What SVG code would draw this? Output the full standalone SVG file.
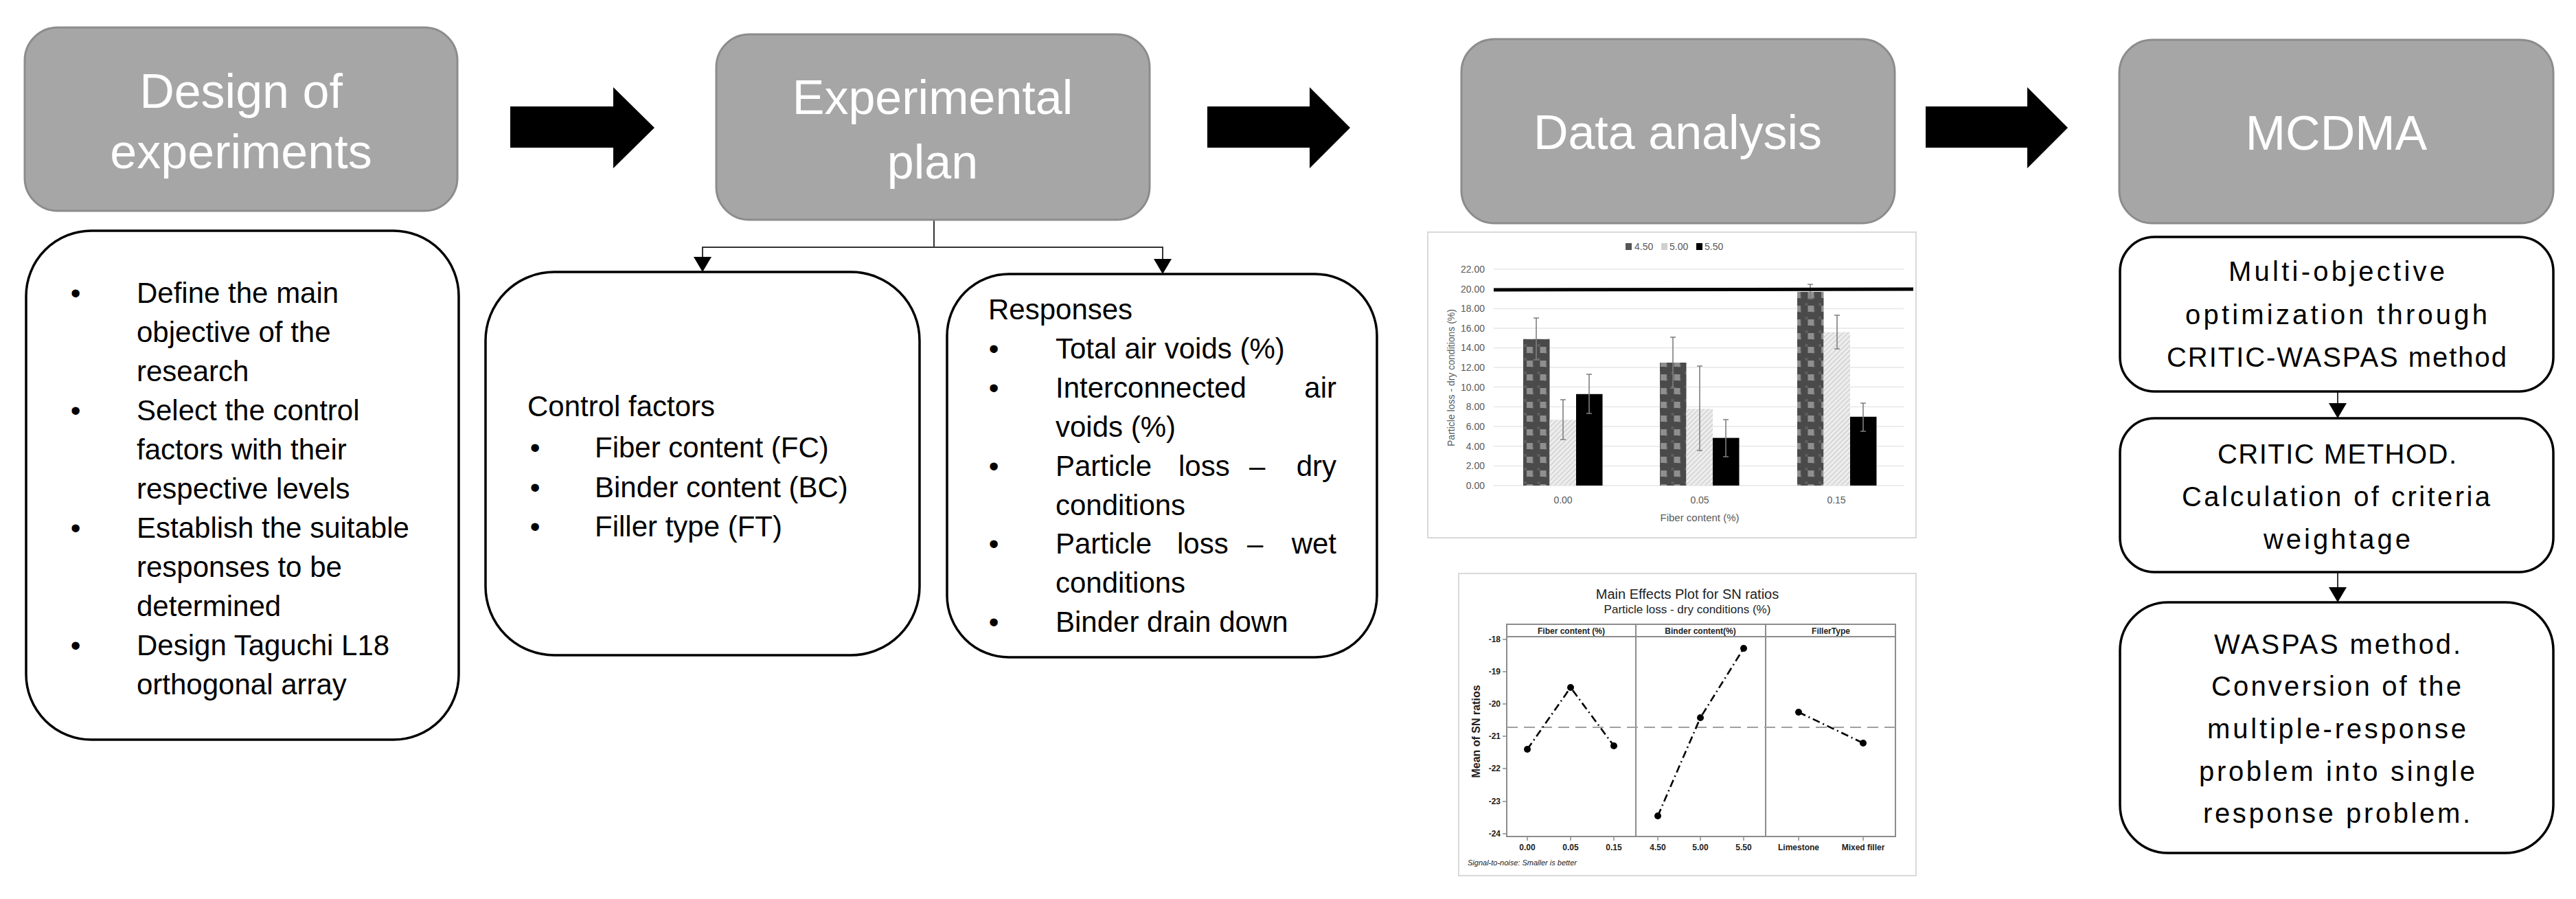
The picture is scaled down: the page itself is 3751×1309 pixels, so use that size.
<svg xmlns="http://www.w3.org/2000/svg" width="3751" height="1309" viewBox="0 0 3751 1309">
<defs>
<style>
text{font-family:'Liberation Sans',Arial,sans-serif}
.gbox{fill:#a6a6a6;stroke:#8c8c8c;stroke-width:3}
.tbox{fill:#fff;stroke:#000;stroke-width:3.5}
.h{font-size:70px;fill:#fff;text-anchor:middle}
.b{font-size:42px;fill:#000}
.bul{font-size:42px;fill:#000;text-anchor:middle}
.m{font-size:40px;fill:#000}
.blk{fill:#000}
.con{fill:none;stroke:#333;stroke-width:2}
.grid{stroke:#ececec;stroke-width:2}
.ax{font-size:14px;fill:#595959}
.err{stroke:#7f7f7f;stroke-width:1.6;fill:none}
.ml{fill:none;stroke:#000;stroke-width:2.6;stroke-dasharray:11 5 2 5}
.tk{font-size:12px;fill:#222;font-weight:bold}
</style>
<marker id="ah" viewBox="0 0 22 26" refX="22" refY="13" markerWidth="22" markerHeight="26" markerUnits="userSpaceOnUse" orient="auto">
<path d="M0,0 L22,13 L0,26 Z" fill="#000"/>
</marker>
<pattern id="chk" patternUnits="userSpaceOnUse" width="19.5" height="20" x="2218" y="0">
<rect width="19.5" height="20" fill="#4a4a4a"/>
<rect x="1" y="1" width="4" height="4" fill="#5e5e5e"/>
<rect x="11" y="11" width="4" height="4" fill="#5e5e5e"/>
<rect x="5" y="5" width="9" height="9" fill="#8f8f8f"/>
</pattern>
<pattern id="hat" patternUnits="userSpaceOnUse" width="5" height="5" patternTransform="rotate(45)">
<rect width="5" height="5" fill="#ececec"/>
<line x1="0" y1="0" x2="0" y2="5" stroke="#c6c6c6" stroke-width="2"/>
</pattern>
</defs>
<rect width="3751" height="1309" fill="#fff"/>

<g id="connectors">
<polygon class="blk" points="743,155 893,155 893,127 953,186 893,245 893,215 743,215"/>
<polygon class="blk" points="1758,155 1907,155 1907,127 1966,186 1907,245 1907,215 1758,215"/>
<polygon class="blk" points="2804,155 2952,155 2952,127 3011,186 2952,245 2952,215 2804,215"/>
<path class="con" d="M1360,320 V360 H1023 V396" marker-end="url(#ah)"/>
<path class="con" d="M1360,360 H1693 V399" marker-end="url(#ah)"/>
<path class="con" d="M3404,570 V609" marker-end="url(#ah)"/>
<path class="con" d="M3404,834 V877" marker-end="url(#ah)"/>
</g>

<g id="design-of-experiments">
<rect class="gbox" x="36" y="40" width="630" height="267" rx="48"/>
<text class="h" x="351" y="157">Design of</text>
<text class="h" x="351" y="245">experiments</text>
</g>

<g id="experimental-plan">
<rect class="gbox" x="1043" y="50" width="631" height="270" rx="48"/>
<text class="h" x="1358" y="166">Experimental</text>
<text class="h" x="1358" y="260">plan</text>
</g>

<g id="data-analysis">
<rect class="gbox" x="2128" y="57" width="631" height="268" rx="48"/>
<text class="h" x="2443" y="217">Data analysis</text>
</g>

<g id="mcdma">
<rect class="gbox" x="3086" y="58" width="632" height="267" rx="48"/>
<text class="h" x="3402" y="218">MCDMA</text>
</g>

<g id="design-steps">
<rect class="tbox" x="38" y="336" width="630" height="741" rx="95"/>
<text class="bul" x="110" y="441">•</text>
<text class="b" x="199" y="441">Define the main</text>
<text class="b" x="199" y="498">objective of the</text>
<text class="b" x="199" y="555">research</text>
<text class="bul" x="110" y="612">•</text>
<text class="b" x="199" y="612">Select the control</text>
<text class="b" x="199" y="669">factors with their</text>
<text class="b" x="199" y="726">respective levels</text>
<text class="bul" x="110" y="783">•</text>
<text class="b" x="199" y="783">Establish the suitable</text>
<text class="b" x="199" y="840">responses to be</text>
<text class="b" x="199" y="897">determined</text>
<text class="bul" x="110" y="954">•</text>
<text class="b" x="199" y="954">Design Taguchi L18</text>
<text class="b" x="199" y="1011">orthogonal array</text>
</g>

<g id="control-factors">
<rect class="tbox" x="707" y="396" width="632" height="558" rx="100"/>
<text class="b" x="768" y="606">Control factors</text>
<text class="bul" x="779" y="666">•</text>
<text class="b" x="866" y="666">Fiber content (FC)</text>
<text class="bul" x="779" y="724">•</text>
<text class="b" x="866" y="724">Binder content (BC)</text>
<text class="bul" x="779" y="781">•</text>
<text class="b" x="866" y="781">Filler type (FT)</text>
</g>

<g id="responses">
<rect class="tbox" x="1379" y="399" width="626" height="558" rx="90"/>
<text class="b" x="1439" y="465">Responses</text>
<text class="bul" x="1447" y="522">•</text>
<text class="b" x="1537" y="522">Total air voids (%)</text>
<text class="bul" x="1447" y="579">•</text>
<text class="b" x="1537" y="579">Interconnected</text>
<text class="b" x="1946" y="579" text-anchor="end">air</text>
<text class="b" x="1537" y="636">voids (%)</text>
<text class="bul" x="1447" y="693">•</text>
<text class="b" y="693"><tspan x="1537">Particle</tspan><tspan x="1716">loss</tspan><tspan x="1819">–</tspan></text>
<text class="b" x="1946" y="693" text-anchor="end">dry</text>
<text class="b" x="1537" y="750">conditions</text>
<text class="bul" x="1447" y="806">•</text>
<text class="b" y="806"><tspan x="1537">Particle</tspan><tspan x="1714">loss</tspan><tspan x="1816">–</tspan></text>
<text class="b" x="1946" y="806" text-anchor="end">wet</text>
<text class="b" x="1537" y="863">conditions</text>
<text class="bul" x="1447" y="920">•</text>
<text class="b" x="1537" y="920">Binder drain down</text>
</g>

<g id="bar-chart">
<rect x="2079" y="338" width="711" height="445" fill="#fff" stroke="#d9d9d9" stroke-width="2"/>
<rect x="2367" y="354" width="9" height="10" fill="#555"/>
<text class="ax" x="2380" y="364" font-size="13">4.50</text>
<rect x="2419" y="354" width="9" height="10" fill="#d0d0d0"/>
<text class="ax" x="2431" y="364" font-size="13">5.00</text>
<rect x="2470" y="354" width="9" height="10" fill="#000"/>
<text class="ax" x="2482" y="364" font-size="13">5.50</text>
<g class="grid">
<line x1="2175" y1="707" x2="2772" y2="707"/>
<line x1="2175" y1="678.4" x2="2772" y2="678.4"/>
<line x1="2175" y1="649.7" x2="2772" y2="649.7"/>
<line x1="2175" y1="621" x2="2772" y2="621"/>
<line x1="2175" y1="592.3" x2="2772" y2="592.3"/>
<line x1="2175" y1="563.6" x2="2772" y2="563.6"/>
<line x1="2175" y1="535.1" x2="2772" y2="535.1"/>
<line x1="2175" y1="506.5" x2="2772" y2="506.5"/>
<line x1="2175" y1="477.9" x2="2772" y2="477.9"/>
<line x1="2175" y1="449.3" x2="2772" y2="449.3"/>
<line x1="2175" y1="392" x2="2772" y2="392"/>
</g>
<g class="ax" text-anchor="end">
<text x="2162" y="397">22.00</text>
<text x="2162" y="426">20.00</text>
<text x="2162" y="454">18.00</text>
<text x="2162" y="483">16.00</text>
<text x="2162" y="511">14.00</text>
<text x="2162" y="540">12.00</text>
<text x="2162" y="569">10.00</text>
<text x="2162" y="597">8.00</text>
<text x="2162" y="626">6.00</text>
<text x="2162" y="655">4.00</text>
<text x="2162" y="683">2.00</text>
<text x="2162" y="712">0.00</text>
</g>
<text class="ax" transform="translate(2118,550) rotate(-90)" text-anchor="middle">Particle loss - dry conditions (%)</text>
<rect x="2218" y="493.7" width="38.5" height="213.3" fill="url(#chk)"/>
<rect x="2256.5" y="611.1" width="38.5" height="95.9" fill="url(#hat)"/>
<rect x="2295" y="573.8" width="38.5" height="133.2" fill="#000"/>
<rect x="2417" y="528" width="38.5" height="179" fill="url(#chk)"/>
<rect x="2455.5" y="595.3" width="38.5" height="111.7" fill="url(#hat)"/>
<rect x="2494" y="637.6" width="38.5" height="69.4" fill="#000"/>
<rect x="2617" y="424.9" width="38.5" height="282.1" fill="url(#chk)"/>
<rect x="2655.5" y="483.6" width="38.5" height="223.4" fill="url(#hat)"/>
<rect x="2694" y="606.8" width="38.5" height="100.2" fill="#000"/>
<path class="err" d="M2237,463V524M2233,463H2241M2233,524H2241 M2276,582V640M2272,582H2280M2272,640H2280 M2314,545V602M2310,545H2318M2310,602H2318 M2436,491V565M2432,491H2440M2432,565H2440 M2475,533V656M2471,533H2479M2471,656H2479 M2513,611V665M2509,611H2517M2509,665H2517 M2636,414V435M2632,414H2640M2632,435H2640 M2675,459V508M2671,459H2679M2671,508H2679 M2713,587V628M2709,587H2717M2709,628H2717"/>
<line x1="2175" y1="422" x2="2786" y2="421" stroke="#000" stroke-width="5"/>
<g class="ax" text-anchor="middle">
<text x="2276" y="733">0.00</text>
<text x="2475" y="733">0.05</text>
<text x="2674" y="733">0.15</text>
<text x="2475" y="759" font-size="15">Fiber content (%)</text>
</g>
</g>

<g id="main-effects-plot">
<rect x="2124" y="835" width="666" height="440" fill="#fff" stroke="#d9d9d9" stroke-width="2"/>
<text x="2457" y="872" font-size="20" text-anchor="middle" fill="#222">Main Effects Plot for SN ratios</text>
<text x="2457" y="893" font-size="17" text-anchor="middle" fill="#222">Particle loss - dry conditions (%)</text>
<rect x="2194" y="909" width="566" height="309" fill="#fff" stroke="#8c8c8c" stroke-width="2"/>
<line x1="2194" y1="927" x2="2760" y2="927" stroke="#8c8c8c" stroke-width="2"/>
<line x1="2382" y1="909" x2="2382" y2="1218" stroke="#8c8c8c" stroke-width="2"/>
<line x1="2571" y1="909" x2="2571" y2="1218" stroke="#8c8c8c" stroke-width="2"/>
<g class="tk" text-anchor="middle" font-weight="normal">
<text x="2288" y="923">Fiber content (%)</text>
<text x="2476" y="923">Binder content(%)</text>
<text x="2666" y="923">FillerType</text>
</g>
<line x1="2194" y1="1059" x2="2760" y2="1059" stroke="#a0a0a0" stroke-width="2.2" stroke-dasharray="16 9"/>
<g class="tk" text-anchor="end">
<text x="2185" y="935">-18</text>
<text x="2185" y="982">-19</text>
<text x="2185" y="1029">-20</text>
<text x="2185" y="1076">-21</text>
<text x="2185" y="1123">-22</text>
<text x="2185" y="1171">-23</text>
<text x="2185" y="1218">-24</text>
</g>
<path stroke="#8c8c8c" stroke-width="1.5" d="M2188,931H2194M2188,978H2194M2188,1025H2194M2188,1072H2194M2188,1119H2194M2188,1167H2194M2188,1214H2194 M2224,1218V1224M2287,1218V1224M2350,1218V1224M2414,1218V1224M2476,1218V1224M2539,1218V1224M2619,1218V1224M2713,1218V1224"/>
<text x="2155" y="1065" font-size="16" font-weight="bold" fill="#222" text-anchor="middle" transform="rotate(-90 2155 1065)">Mean of SN ratios</text>
<polyline class="ml" points="2224,1091 2287,1001 2350,1086"/>
<polyline class="ml" points="2414,1188 2476,1045 2539,944"/>
<polyline class="ml" points="2619,1037 2713,1082"/>
<g fill="#000">
<circle cx="2224" cy="1091" r="5"/><circle cx="2287" cy="1001" r="5"/><circle cx="2350" cy="1086" r="5"/>
<circle cx="2414" cy="1188" r="5"/><circle cx="2476" cy="1045" r="5"/><circle cx="2539" cy="944" r="5"/>
<circle cx="2619" cy="1037" r="5"/><circle cx="2713" cy="1082" r="5"/>
</g>
<g class="tk" text-anchor="middle">
<text x="2224" y="1238">0.00</text>
<text x="2287" y="1238">0.05</text>
<text x="2350" y="1238">0.15</text>
<text x="2414" y="1238">4.50</text>
<text x="2476" y="1238">5.00</text>
<text x="2539" y="1238">5.50</text>
<text x="2619" y="1238">Limestone</text>
<text x="2713" y="1238">Mixed filler</text>
</g>
<text x="2137" y="1260" font-size="11" font-style="italic" fill="#222">Signal-to-noise: Smaller is better</text>
</g>

<g id="critic-waspas">
<rect class="tbox" x="3087" y="345" width="631" height="225" rx="50"/>
<text class="m" x="3245" y="409" textLength="315" lengthAdjust="spacing">Multi-objective</text>
<text class="m" x="3182" y="472" textLength="440" lengthAdjust="spacing">optimization through</text>
<text class="m" x="3155" y="534" textLength="495" lengthAdjust="spacing">CRITIC-WASPAS method</text>
</g>

<g id="critic-method">
<rect class="tbox" x="3087" y="609" width="631" height="224" rx="50"/>
<text class="m" x="3229" y="675" textLength="348" lengthAdjust="spacing">CRITIC METHOD.</text>
<text class="m" x="3177" y="737" textLength="449" lengthAdjust="spacing">Calculation of criteria</text>
<text class="m" x="3296" y="799" textLength="214" lengthAdjust="spacing">weightage</text>
</g>

<g id="waspas-method">
<rect class="tbox" x="3087" y="877" width="631" height="365" rx="70"/>
<text class="m" x="3224" y="952" textLength="359" lengthAdjust="spacing">WASPAS method.</text>
<text class="m" x="3220" y="1013" textLength="364" lengthAdjust="spacing">Conversion of the</text>
<text class="m" x="3214" y="1075" textLength="377" lengthAdjust="spacing">multiple-response</text>
<text class="m" x="3202" y="1137" textLength="402" lengthAdjust="spacing">problem into single</text>
<text class="m" x="3208" y="1198" textLength="389" lengthAdjust="spacing">response problem.</text>
</g>
</svg>
